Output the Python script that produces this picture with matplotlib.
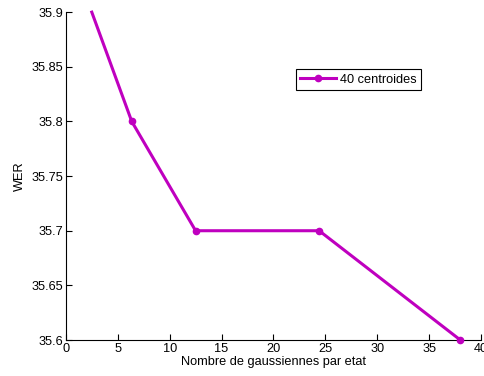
import matplotlib
matplotlib.use("Agg")
import matplotlib.pyplot as plt

x_vals = [2.5, 6.35, 12.5, 24.4, 38.0]
wer_vals = [35.9, 35.8, 35.7, 35.7, 35.6]
series_label = "40 centroides"
x_ticks = [0, 5, 10, 15, 20, 25, 30, 35, 40]
y_ticks = [35.6, 35.65, 35.7, 35.75, 35.8, 35.85, 35.9]
y_tick_labels = ["35.6", "35.65", "35.7", "35.75", "35.8", "35.85", "35.9"]

plt.rcParams['font.family'] = ['Liberation Sans', 'DejaVu Sans']
plt.rcParams['font.size'] = 9.2

fig = plt.figure(figsize=(4.84, 3.76), dpi=100)
ax = fig.add_axes([0.136, 0.0957, 0.858, 0.872])
color = '#BF00BF'
ax.plot(x_vals, wer_vals, color=color, lw=2.2, marker='o', markersize=4.5,
        markevery=[1, 2, 3, 4], label=series_label, clip_on=False, zorder=3)
ax.set_xlim(0, 40)
ax.set_ylim(35.6, 35.9)
ax.set_xticks(x_ticks)
ax.set_yticks(y_ticks)
ax.set_yticklabels(y_tick_labels)
ax.spines['top'].set_visible(False)
ax.spines['right'].set_visible(False)
ax.tick_params(direction='in', length=4, width=0.8, pad=2)
ax.set_xlabel("Nombre de gaussiennes par etat", labelpad=1)
ax.set_ylabel("WER", labelpad=4)
leg = ax.legend(loc='upper left', bbox_to_anchor=(0.554, 0.826), frameon=True,
                fancybox=False, edgecolor='black', framealpha=1,
                handlelength=2.8, borderpad=0.35, handletextpad=0.3,
                borderaxespad=0)
leg.get_frame().set_linewidth(0.8)
fig.savefig("out.png", dpi=100)
